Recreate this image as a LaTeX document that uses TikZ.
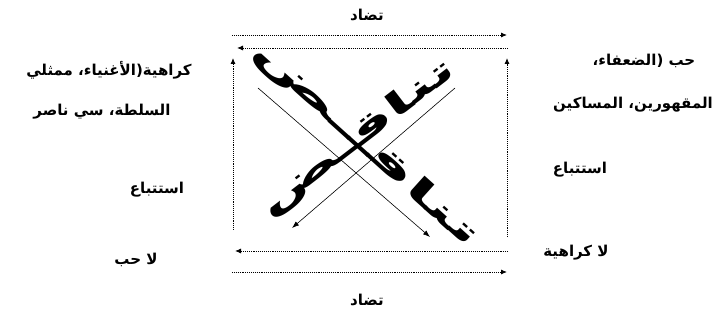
\documentclass[tikz,border=0pt]{standalone}
\usepackage{fontspec}
\TeXXeTstate=1
\newfontfamily\arabicfont[Script=Arabic]{DejaVu Sans}
\usetikzlibrary{arrows.meta}
\begin{document}
\begin{tikzpicture}[x=1pt,y=1pt,
  lbl/.style={font=\arabicfont\bfseries\fontsize{15}{17}\selectfont, inner sep=0pt},
  dotarrow/.style={densely dotted, line width=0.9pt, -{Latex[length=6pt,width=5pt]}},
  diagarrow/.style={line width=0.6pt, -{Latex[length=7pt,width=5pt]}},
  bigtext/.style={font=\arabicfont\bfseries\fontsize{33}{33}\selectfont, inner sep=0pt, anchor=base}
]
\useasboundingbox (0,0) rectangle (718,321);
% big diagonal words
\node[bigtext, rotate=-42] (big1) at (360,170) {\resizebox{293pt}{\height}{\beginR تناقــض\endR}};
\node[bigtext, rotate=37.5] (big2) at (363,176) {\resizebox{238pt}{\height}{\beginR تناقـض\endR}};
% arrow end points
\coordinate (t1a) at (232,286); \coordinate (t1b) at (507,286);
\coordinate (t2a) at (508,273); \coordinate (t2b) at (237,273);
\coordinate (lva) at (233,91);  \coordinate (lvb) at (233,263);
\coordinate (rva) at (507,84);  \coordinate (rvb) at (507,263);
\coordinate (b1a) at (508,70);  \coordinate (b1b) at (235,70);
\coordinate (b2a) at (232,49);  \coordinate (b2b) at (507,49);
\coordinate (d1a) at (258,233); \coordinate (d1b) at (430,84);
\coordinate (d2a) at (455,233); \coordinate (d2b) at (292,93);
\draw[dotarrow] (t1a) -- (t1b);
\draw[dotarrow] (t2a) -- (t2b);
\draw[dotarrow] (lva) -- (lvb);
\draw[dotarrow] (rva) -- (rvb);
\draw[dotarrow] (b1a) -- (b1b);
\draw[dotarrow] (b2a) -- (b2b);
\draw[diagarrow] (d1a) -- (d1b);
\draw[diagarrow] (d2a) -- (d2b);
% labels
\node[lbl] (top) at (367,306) {\beginR تضاد\endR};
\node[lbl] (bot) at (367,21) {\beginR تضاد\endR};
\node[lbl] (l1) at (109,251) {\beginR كراهية(الأغنياء، ممثلي\endR};
\node[lbl] (l2) at (102,209) {\beginR السلطة، سي ناصر\endR};
\node[lbl] (r1) at (644,260) {\beginR حب (الضعفاء،\endR};
\node[lbl] (r2) at (633,216) {\beginR المقهورين، المساكين\endR};
\node[lbl] (lm) at (157,131) {\beginR استتباع\endR};
\node[lbl] (lb) at (136,61) {\beginR لا حب\endR};
\node[lbl] (rm) at (580,151) {\beginR استتباع\endR};
\node[lbl] (rb) at (576,68) {\beginR لا كراهية\endR};
\end{tikzpicture}
\end{document}
